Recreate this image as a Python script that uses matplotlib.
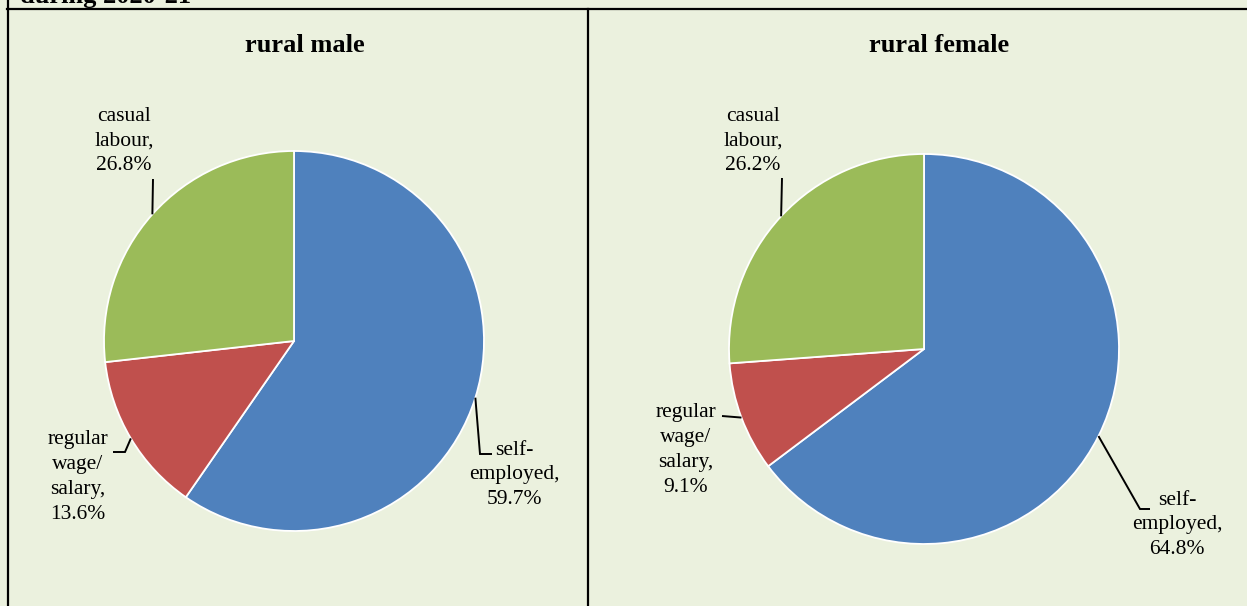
import matplotlib
matplotlib.use("Agg")
import matplotlib.pyplot as plt
import numpy as np
from matplotlib.lines import Line2D

plt.rcParams["font.family"] = ["Liberation Serif", "DejaVu Serif"]

# employment status shares, rural India 2020-21
categories = ["self-employed", "regular wage/salary", "casual labour"]
male_share = [59.7, 13.6, 26.8]
female_share = [64.8, 9.1, 26.2]
label_text = ["self-\nemployed,", "regular\nwage/\nsalary,", "casual\nlabour,"]

COLORS = ["#4F81BD", "#C0504D", "#9BBB59"]
BG = "#EBF1DE"
W, H = 1247, 606

fig = plt.figure(figsize=(W / 100, H / 100), dpi=100, facecolor=BG)


def draw_panel(title, title_x, shares, box, centre, radius, label_pos, elbows):
    x0, x1, y0, y1 = box
    cx, cy = centre
    ax = fig.add_axes([x0 / W, 1 - y1 / H, (x1 - x0) / W, (y1 - y0) / H])
    ax.set_facecolor(BG)

    def to_data(px, py):
        return (px - cx) / radius, (cy - py) / radius

    wedges, _ = ax.pie(
        shares,
        colors=COLORS,
        startangle=90,
        counterclock=False,
        wedgeprops=dict(edgecolor="white", linewidth=1.3),
    )
    ax.set_xlim((x0 - cx) / radius, (x1 - cx) / radius)
    ax.set_ylim((cy - y1) / radius, (cy - y0) / radius)
    ax.set_aspect("auto")
    ax.axis("off")
    ax.add_patch(plt.Rectangle((0, 0), 1, 1, transform=ax.transAxes,
                               facecolor=BG, edgecolor="none", zorder=-5))

    tx, ty = to_data(title_x, 46)
    ax.text(tx, ty, title, ha="center", va="center", fontsize=19,
            fontweight="bold")

    for w, share, txt, lp, elb in zip(wedges, shares, label_text, label_pos, elbows):
        mid = np.deg2rad((w.theta1 + w.theta2) / 2)
        xs = [np.cos(mid)] + [to_data(*p)[0] for p in elb]
        ys = [np.sin(mid)] + [to_data(*p)[1] for p in elb]
        ax.plot(xs, ys, color="black", lw=1.4, clip_on=False,
                solid_capstyle="butt", solid_joinstyle="miter")
        lx, ly = to_data(*lp)
        ax.text(lx, ly, f"{txt}\n{share:.1f}%", ha="center", va="center",
                fontsize=15.5, linespacing=1.42, multialignment="center")


draw_panel(
    "rural male", 305, male_share,
    box=(8, 588, 9, 606), centre=(294, 341), radius=190,
    label_pos=[(514, 475), (78, 477), (124, 141)],
    elbows=[[(480, 454), (492, 454)],
            [(125, 452), (113, 452)],
            [(153, 179)]],
)
draw_panel(
    "rural female", 939, female_share,
    box=(590, 1247, 9, 606), centre=(924, 349), radius=195,
    label_pos=[(1177, 525), (686, 450), (753, 141)],
    elbows=[[(1140, 509), (1150, 509)],
            [(722, 416)],
            [(782, 178)]],
)

# table rules around the two chart cells
def rule(xa, ya, xb, yb, lw=1.6):
    fig.add_artist(Line2D([xa / W, xb / W], [1 - ya / H, 1 - yb / H],
                          transform=fig.transFigure, color="black", lw=lw))

rule(7, 8.5, W, 8.5)
rule(7.5, 0, 7.5, H)
rule(588, 8.5, 588, H)

fig.text(20 / W, 1 - 3.5 / H, "during 2020-21", ha="left", va="baseline",
         fontsize=19, fontweight="bold")

fig.savefig("out.png", dpi=100, facecolor=BG)
